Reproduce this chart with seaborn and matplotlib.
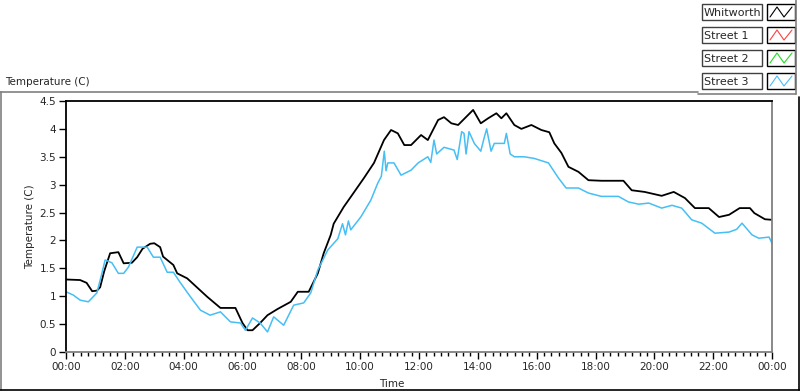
import pandas as pd
import matplotlib
matplotlib.use("Agg")
import matplotlib.pyplot as plt
from matplotlib.patches import Rectangle
from matplotlib.ticker import FuncFormatter, MultipleLocator
import seaborn as sns

# ---------------------------------------------------------
# data (hours since midnight, deg C)
# ---------------------------------------------------------
whit_hours = [0, 0.48, 0.7, 0.89, 1.05, 1.16, 1.3, 1.5, 1.78, 1.96, 2.24, 2.42, 2.6, 2.86, 3.0,
              3.2, 3.3, 3.65, 3.78, 4.12, 4.47, 4.8, 5.25, 5.76, 6.0, 6.17, 6.34, 6.6, 6.85,
              7.19, 7.64, 7.88, 8.25, 8.56, 8.76, 9.0, 9.1, 9.44, 9.68, 10.13, 10.47, 10.81,
              11.05, 11.28, 11.5, 11.73, 12.07, 12.3, 12.65, 12.85, 13.1, 13.33, 13.67, 13.84,
              14.1, 14.35, 14.63, 14.8, 14.97, 15.24, 15.48, 15.82, 16.16, 16.43, 16.6, 16.84,
              17.08, 17.42, 17.76, 18.2, 18.95, 19.23, 19.67, 20.25, 20.66, 21.04, 21.38,
              21.85, 22.2, 22.54, 22.9, 23.25, 23.4, 23.76, 24.0]
whit_temp = [1.3, 1.29, 1.24, 1.09, 1.1, 1.16, 1.45, 1.77, 1.79, 1.59, 1.6, 1.7, 1.85, 1.94, 1.95,
             1.88, 1.71, 1.56, 1.41, 1.32, 1.15, 0.99, 0.79, 0.79, 0.52, 0.39, 0.39, 0.52, 0.66,
             0.77, 0.9, 1.08, 1.08, 1.41, 1.77, 2.1, 2.3, 2.6, 2.78, 3.12, 3.39, 3.8,
             3.98, 3.92, 3.71, 3.71, 3.89, 3.8, 4.16, 4.21, 4.1, 4.07, 4.25, 4.34,
             4.1, 4.19, 4.28, 4.19, 4.28, 4.07, 4.0, 4.07, 3.98, 3.94, 3.74, 3.57,
             3.32, 3.23, 3.08, 3.07, 3.07, 2.9, 2.87, 2.8, 2.87, 2.76, 2.58,
             2.58, 2.42, 2.46, 2.58, 2.58, 2.49, 2.38, 2.37]

st3_hours = [0, 0.25, 0.48, 0.76, 1.05, 1.22, 1.33, 1.56, 1.78, 1.96, 2.12, 2.42, 2.76, 2.97,
             3.2, 3.44, 3.65, 3.89, 4.23, 4.57, 4.9, 5.25, 5.59, 5.93, 6.1, 6.34, 6.6, 6.85,
             7.06, 7.4, 7.74, 8.08, 8.32, 8.56, 8.9, 9.24, 9.4, 9.5, 9.6, 9.68, 10.02, 10.36,
             10.6, 10.72, 10.82, 10.88, 10.94, 11.15, 11.39, 11.73, 11.97, 12.3, 12.4, 12.51,
             12.6, 12.85, 13.19, 13.3, 13.45, 13.53, 13.6, 13.7, 13.88, 14.1, 14.22, 14.3,
             14.45, 14.56, 14.9, 14.97, 15.1, 15.24, 15.58, 15.92, 16.4, 16.74, 17.0, 17.42,
             17.76, 18.2, 18.78, 19.12, 19.47, 19.81, 20.25, 20.6, 20.93, 21.27, 21.61, 22.06,
             22.54, 22.8, 22.98, 23.32, 23.55, 23.9, 24.0]
st3_temp = [1.08, 1.02, 0.93, 0.9, 1.06, 1.41, 1.65, 1.6, 1.41, 1.41, 1.52, 1.88, 1.88, 1.7,
            1.7, 1.43, 1.43, 1.24, 0.99, 0.75, 0.66, 0.72, 0.54, 0.52, 0.39, 0.61, 0.52, 0.36,
            0.63, 0.48, 0.84, 0.88, 1.06, 1.47, 1.83, 2.03, 2.3, 2.1, 2.35, 2.19, 2.42, 2.72,
            3.03, 3.15, 3.6, 3.25, 3.39, 3.39, 3.17, 3.26, 3.39, 3.5, 3.4, 3.8,
            3.55, 3.67, 3.62, 3.45, 3.95, 3.92, 3.55, 3.95, 3.74, 3.6, 3.85, 4.0,
            3.6, 3.74, 3.74, 3.92, 3.55, 3.5, 3.5, 3.47, 3.39, 3.12, 2.94, 2.94,
            2.85, 2.79, 2.79, 2.69, 2.65, 2.67, 2.58, 2.63, 2.58, 2.37, 2.31, 2.13,
            2.15, 2.2, 2.31, 2.1, 2.04, 2.06, 1.95]

legend_names = ["Whitworth", "Street 1", "Street 2", "Street 3"]
legend_colors = ["black", "#ff4040", "#22dd22", "#45bff5"]

df_w = pd.DataFrame({"hours": whit_hours, "temp": whit_temp})
df_s3 = pd.DataFrame({"hours": st3_hours, "temp": st3_temp})

sns.set_style("white")
plt.rcParams["font.family"] = ["DejaVu Sans"]
plt.rcParams["font.size"] = 7.5

W, H = 800, 392
fig = plt.figure(figsize=(8, 3.92), dpi=100)

# main plot area
ax = fig.add_axes([66 / W, 1 - 352 / H, (772 - 66) / W, (352 - 101) / H])
sns.lineplot(data=df_w, x="hours", y="temp", color="black", lw=1.3, ax=ax, legend=False)
sns.lineplot(data=df_s3, x="hours", y="temp", color=legend_colors[3], lw=1.1,
             ax=ax, legend=False)

ax.set_xlim(0, 24)
ax.set_ylim(0, 4.5)
ax.xaxis.set_major_locator(MultipleLocator(2))
ax.xaxis.set_minor_locator(MultipleLocator(0.25))
ax.yaxis.set_major_locator(MultipleLocator(0.5))
ax.xaxis.set_major_formatter(FuncFormatter(lambda h, p: "%02d:00" % (int(round(h)) % 24)))
ax.yaxis.set_major_formatter(FuncFormatter(lambda v, p: "%g" % v))
ax.tick_params(axis="both", which="major", direction="out", length=5, width=1,
               color="black", labelsize=7.5, pad=2, left=True, bottom=True)
ax.tick_params(axis="x", which="minor", direction="out", length=3, width=1,
               color="black", bottom=True)
ax.set_xlabel("")
ax.set_ylabel("Temperature (C)", fontsize=7.5, labelpad=3)
for side, col in [("top", "black"), ("left", "black"), ("right", "#808080"), ("bottom", "#808080")]:
    ax.spines[side].set_visible(True)
    ax.spines[side].set_color(col)
    ax.spines[side].set_linewidth(1.3)

fig.text(392 / W, 1 - 384 / H, "Time", ha="center", va="center", fontsize=7.5)
fig.text(5 / W, 1 - 82 / H, "Temperature (C)", ha="left", va="center", fontsize=7.5)

# frame lines of the panel (pixel coordinates)
frame = fig.add_axes([0, 0, 1, 1])
frame.set_xlim(0, W)
frame.set_ylim(H, 0)
frame.axis("off")
frame.patch.set_alpha(0)
frame.plot([0, 698], [92, 92], color="#808080", lw=1.2)
frame.plot([698, 796], [94, 94], color="#808080", lw=1.2)
frame.plot([796, 796], [0, 94], color="#808080", lw=1.2)
frame.plot([1, 1], [92, 390], color="#808080", lw=1.2)
frame.plot([0, 800], [390, 390], color="black", lw=1.2)
frame.plot([799, 799], [97, 390], color="black", lw=1.2)

# legend drawn like the original plot legend
for i, (name, col) in enumerate(zip(legend_names, legend_colors)):
    top = 4 + i * 23
    frame.add_patch(Rectangle((702, top), 60, 16, fill=False, ec="#404040", lw=1))
    frame.text(704, top + 8.5, name, ha="left", va="center", fontsize=8)
    frame.add_patch(Rectangle((767, top), 28, 16, fill=False, ec="black", lw=1))
    frame.plot([770, 777, 784, 792], [top + 13, top + 3, top + 13, top + 3], color=col, lw=0.8)

fig.savefig("out.png", dpi=100)
